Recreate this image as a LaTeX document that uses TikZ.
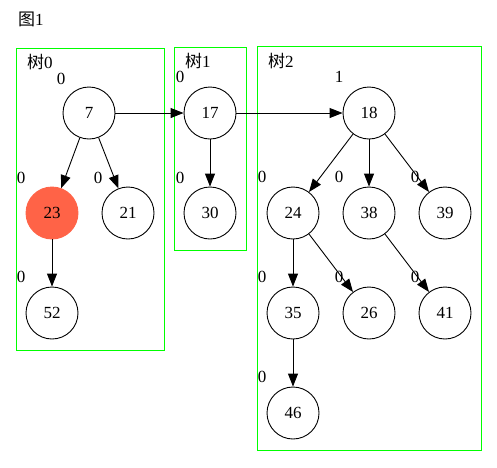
\documentclass[tikz,border=0pt]{standalone}
\usepackage{fontspec}
\setmainfont{Liberation Serif}
\newfontfamily\cjk{Noto Sans CJK SC}
\usetikzlibrary{arrows.meta}
\definecolor{tomato}{RGB}{255,99,71}
\definecolor{lime}{RGB}{0,255,0}

\begin{document}
\begin{tikzpicture}
[x=1pt,y=-1pt,font=\fontsize{17}{20}\selectfont,
 vert/.style={circle,draw,line width=0.9pt,minimum size=52pt,inner sep=0pt},
 mark0/.style={inner sep=0pt},
 tree/.style={draw=lime,line width=1pt},
 edge/.style={-{Triangle[length=13pt,width=10pt]},line width=0.9pt}]
\useasboundingbox (0,0) rectangle (497,467);
% clusters
\draw[tree] (16.5,48.5) rectangle (164.5,350.5);
\draw[tree] (174.5,47.5) rectangle (246.5,250.5);
\draw[tree] (257.5,46.5) rectangle (481.5,450.5);
\node[mark0,anchor=west] (title) at (18,19) {{\cjk 图}1};
\node[mark0,anchor=west] (t0) at (27,62) {{\cjk 树}0};
\node[mark0,anchor=west] (t1) at (185,61) {{\cjk 树}1};
\node[mark0,anchor=west] (t2) at (268,61) {{\cjk 树}2};
% nodes
\node[vert] (n7) at (89,113) {7};
\node[vert] (n17) at (210,113) {17};
\node[vert] (n18) at (369,113) {18};
\node[vert,fill=tomato,draw=tomato] (n23) at (52,213) {23};
\node[vert] (n21) at (128,213) {21};
\node[vert] (n30) at (210,213) {30};
\node[vert] (n52) at (52,313) {52};
\node[vert] (n24) at (293,213) {24};
\node[vert] (n38) at (369,213) {38};
\node[vert] (n39) at (445,213) {39};
\node[vert] (n35) at (293,313) {35};
\node[vert] (n26) at (369,313) {26};
\node[vert] (n41) at (445,313) {41};
\node[vert] (n46) at (293,413) {46};
% degree marks
\node[mark0] (d7) at (61,79) {0};
\node[mark0] (d17) at (180,77) {0};
\node[mark0] (d18) at (339,77) {1};
\node[mark0] (d23) at (21,178) {0};
\node[mark0] (d21) at (98,178) {0};
\node[mark0] (d30) at (180,178) {0};
\node[mark0] (d52) at (21,277) {0};
\node[mark0] (d24) at (262,177) {0};
\node[mark0] (d38) at (339,177) {0};
\node[mark0] (d39) at (415,177) {0};
\node[mark0] (d35) at (262,277) {0};
\node[mark0] (d26) at (339,277) {0};
\node[mark0] (d41) at (415,277) {0};
\node[mark0] (d46) at (262,377) {0};
% edges
\foreach \from/\to in {n7/n17,n17/n18,n7/n23,n7/n21,n17/n30,n23/n52,n18/n24,n18/n38,n18/n39,n24/n35,n24/n26,n38/n41,n35/n46}
\draw[edge] (\from) -- (\to);
\end{tikzpicture}
\end{document}
